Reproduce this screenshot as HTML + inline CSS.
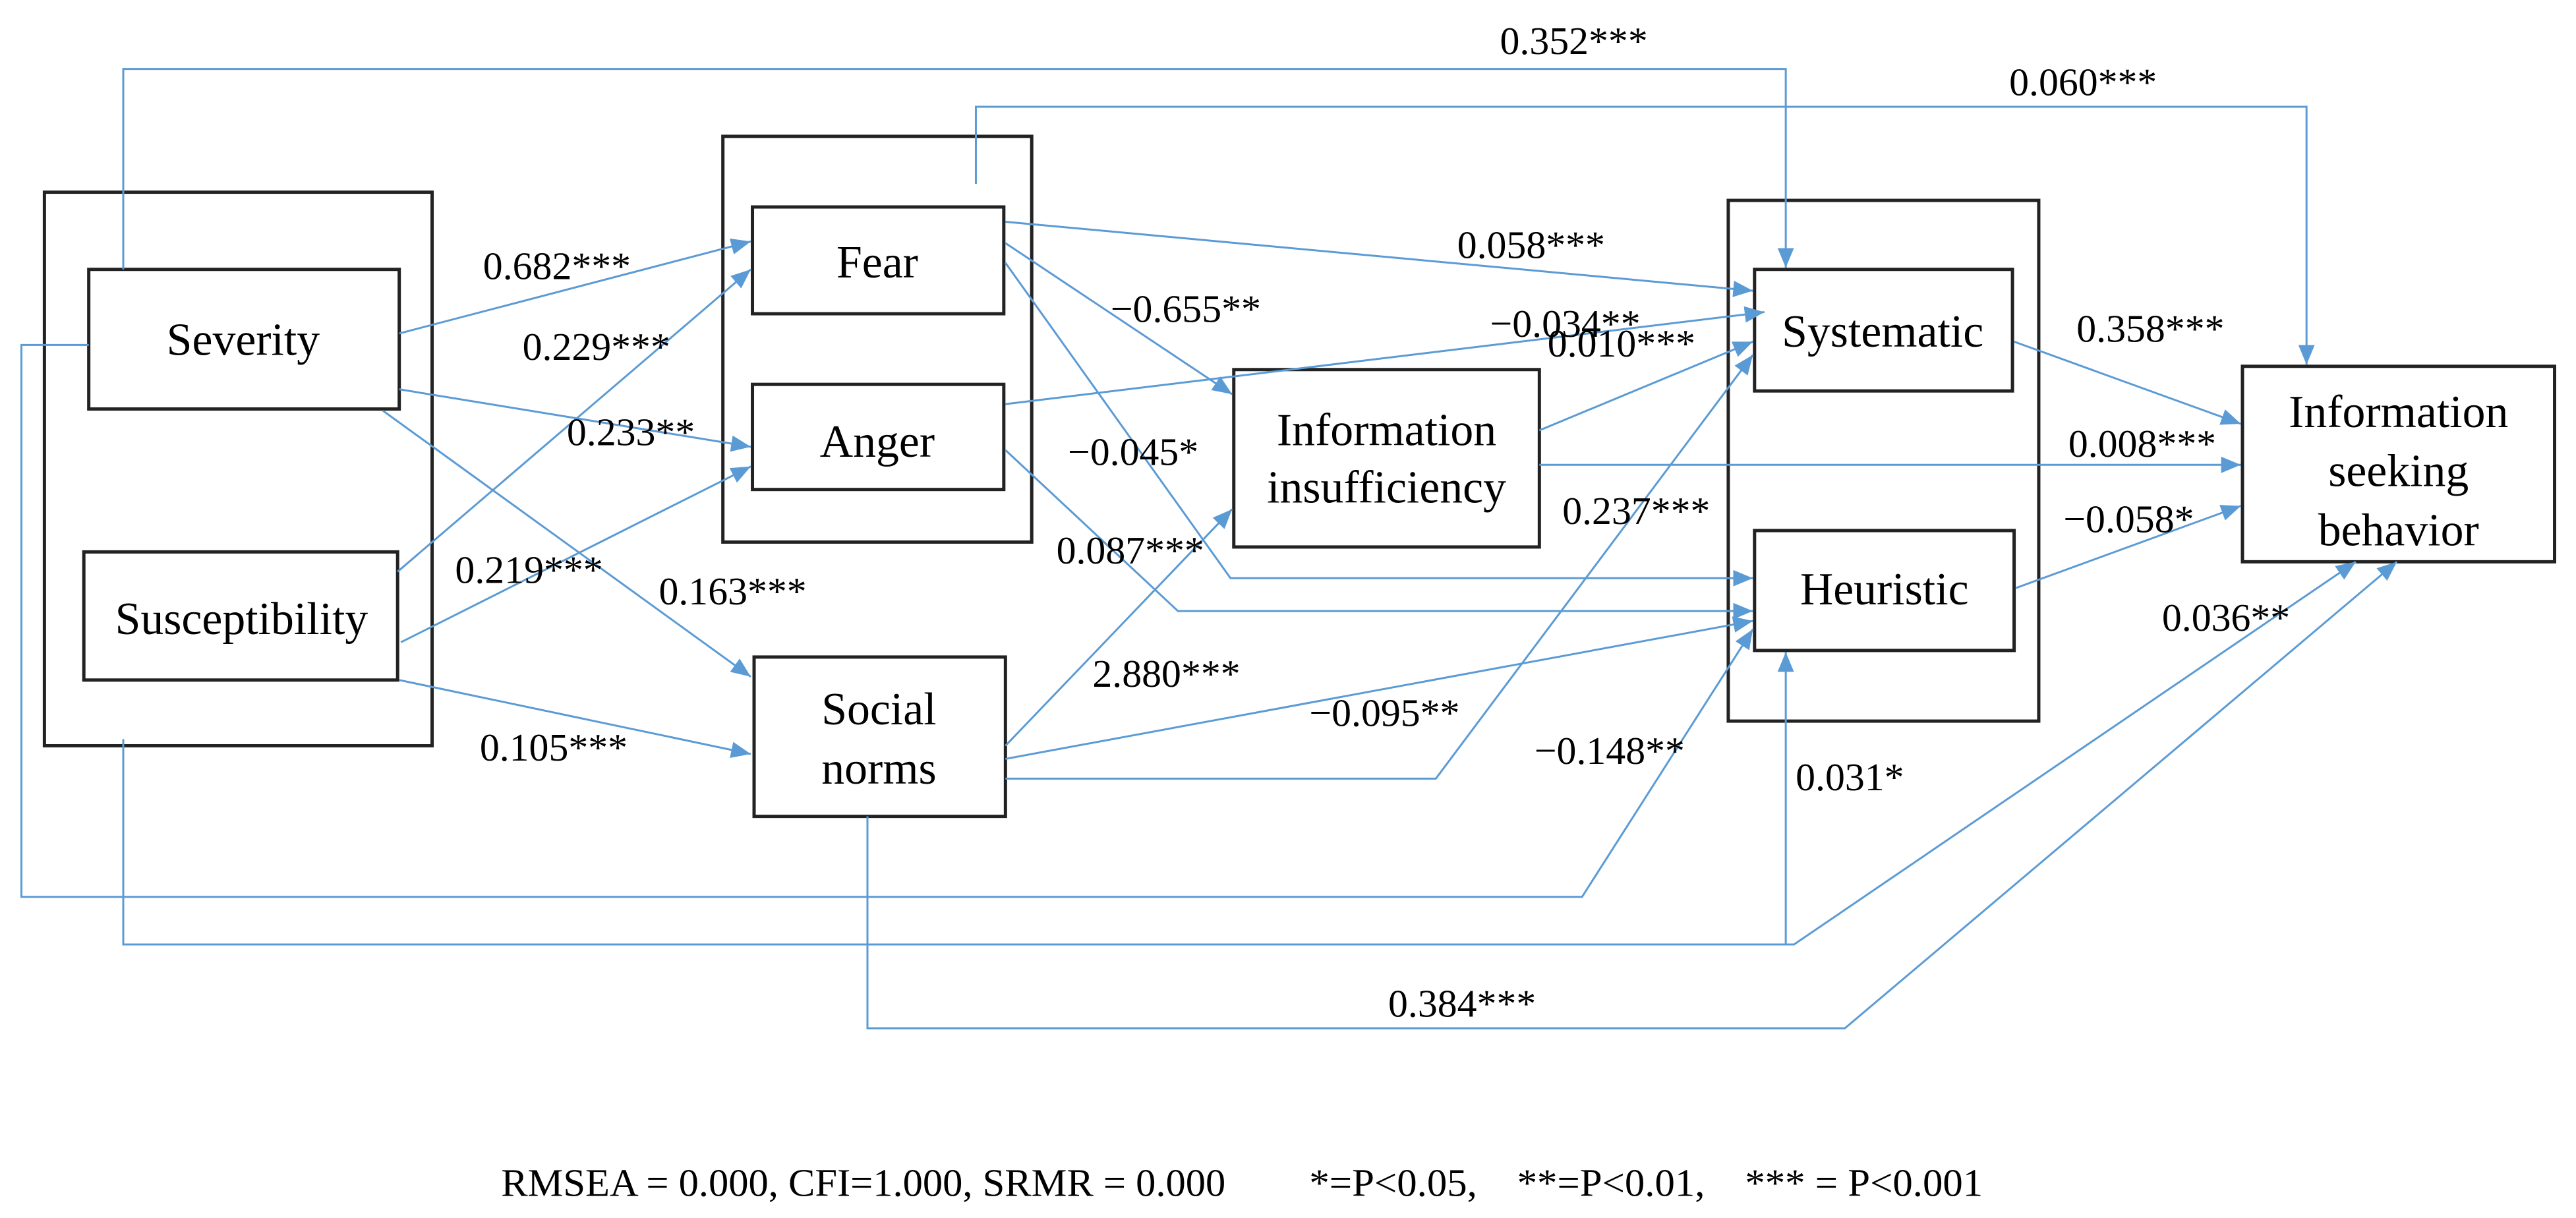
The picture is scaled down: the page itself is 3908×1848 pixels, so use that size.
<!DOCTYPE html>
<html><head><meta charset="utf-8"><style>html,body{margin:0;padding:0;background:#fff}svg{display:block}</style></head>
<body>
<svg width="3908" height="1848" viewBox="0 0 1568 741.5" xmlns="http://www.w3.org/2000/svg" font-family="Liberation Serif, serif">
<defs><marker id="a" markerWidth="13" markerHeight="10" refX="12" refY="5" orient="auto" markerUnits="userSpaceOnUse"><path d="M0,0 L12,5 L0,10 z" fill="#5b9bd5"/></marker></defs>
<g fill="none" stroke="#222" stroke-width="2">
<rect x="27" y="117" width="236" height="337"/>
<rect x="54" y="164" width="189" height="85"/>
<rect x="51" y="336" width="191" height="78"/>
<rect x="440" y="83" width="188" height="247"/>
<rect x="458" y="126" width="153" height="65"/>
<rect x="458" y="234" width="153" height="64"/>
<rect x="459" y="400" width="153" height="97"/>
<rect x="751" y="225" width="186" height="108"/>
<rect x="1052" y="122" width="189" height="317"/>
<rect x="1068" y="164" width="157" height="74"/>
<rect x="1068" y="323" width="158" height="73"/>
<rect x="1365" y="223" width="190" height="119"/>
</g>
<g fill="none" stroke="#5b9bd5" stroke-width="1.2">
<polyline points="75,164 75,42 1087,42 1087,163" marker-end="url(#a)"/>
<polyline points="594,112 594,65 1404,65 1404,222" marker-end="url(#a)"/>
<line x1="243" y1="203" x2="457" y2="147" marker-end="url(#a)"/>
<line x1="242" y1="348" x2="457" y2="164" marker-end="url(#a)"/>
<line x1="243" y1="237" x2="457" y2="272" marker-end="url(#a)"/>
<line x1="244" y1="391" x2="457" y2="284" marker-end="url(#a)"/>
<line x1="233" y1="250" x2="457" y2="412" marker-end="url(#a)"/>
<line x1="243" y1="414" x2="457" y2="459" marker-end="url(#a)"/>
<line x1="612" y1="135" x2="1067" y2="177" marker-end="url(#a)"/>
<line x1="612" y1="148" x2="750" y2="240" marker-end="url(#a)"/>
<polyline points="612,160 749,352 1067,352" marker-end="url(#a)"/>
<line x1="612" y1="246" x2="1074" y2="190" marker-end="url(#a)"/>
<polyline points="612,274 717,372 1067,372" marker-end="url(#a)"/>
<line x1="937" y1="262" x2="1067" y2="208" marker-end="url(#a)"/>
<line x1="937" y1="283" x2="1364" y2="283" marker-end="url(#a)"/>
<line x1="612" y1="454" x2="750" y2="310" marker-end="url(#a)"/>
<line x1="612" y1="462" x2="1067" y2="378" marker-end="url(#a)"/>
<polyline points="612,474 874,474 1067,216" marker-end="url(#a)"/>
<polyline points="528,497 528,626 1123,626 1459,342" marker-end="url(#a)"/>
<polyline points="54,210 13,210 13,546 963,546 1067,383" marker-end="url(#a)"/>
<polyline points="75,450 75,575 1087,575 1087,397" marker-end="url(#a)"/>
<polyline points="1087,575 1092,575 1434,342" marker-end="url(#a)"/>
<line x1="1226" y1="208" x2="1364" y2="258" marker-end="url(#a)"/>
<line x1="1227" y1="358" x2="1364" y2="308" marker-end="url(#a)"/>
</g>
<g font-size="28" text-anchor="middle" fill="#000">
<text x="148" y="216">Severity</text>
<text x="147" y="386">Susceptibility</text>
<text x="534" y="169">Fear</text>
<text x="534" y="278">Anger</text>
<text x="535" y="441">Social</text>
<text x="535" y="477">norms</text>
<text x="844" y="271">Information</text>
<text x="844" y="306">insufficiency</text>
<text x="1146" y="211">Systematic</text>
<text x="1147" y="368">Heuristic</text>
<text x="1460" y="260">Information</text>
<text x="1460" y="296">seeking</text>
<text x="1460" y="332">behavior</text>
</g>
<g font-size="24" fill="#000">
<text x="913" y="33">0.352***</text>
<text x="1223" y="58">0.060***</text>
<text x="294" y="170">0.682***</text>
<text x="318" y="219">0.229***</text>
<text x="345" y="271">0.233**</text>
<text x="277" y="355">0.219***</text>
<text x="401" y="368">0.163***</text>
<text x="292" y="463">0.105***</text>
<text x="887" y="157">0.058***</text>
<text x="676" y="196">−0.655**</text>
<text x="907" y="205">−0.034**</text>
<text x="942" y="217">0.010***</text>
<text x="650" y="283">−0.045*</text>
<text x="643" y="343">0.087***</text>
<text x="951" y="319">0.237***</text>
<text x="665" y="418">2.880***</text>
<text x="797" y="442">−0.095**</text>
<text x="934" y="465">−0.148**</text>
<text x="1093" y="481">0.031*</text>
<text x="845" y="619">0.384***</text>
<text x="1264" y="208">0.358***</text>
<text x="1259" y="278">0.008***</text>
<text x="1256" y="324">−0.058*</text>
<text x="1316" y="384">0.036**</text>
</g>
<g font-size="24" fill="#000">
<text x="305" y="728" textLength="441" lengthAdjust="spacingAndGlyphs">RMSEA = 0.000, CFI=1.000, SRMR = 0.000</text>
<text x="797" y="728" xml:space="preserve" textLength="410" lengthAdjust="spacingAndGlyphs">*=P&lt;0.05,    **=P&lt;0.01,    *** = P&lt;0.001</text>
</g>
</svg>
</body></html>
